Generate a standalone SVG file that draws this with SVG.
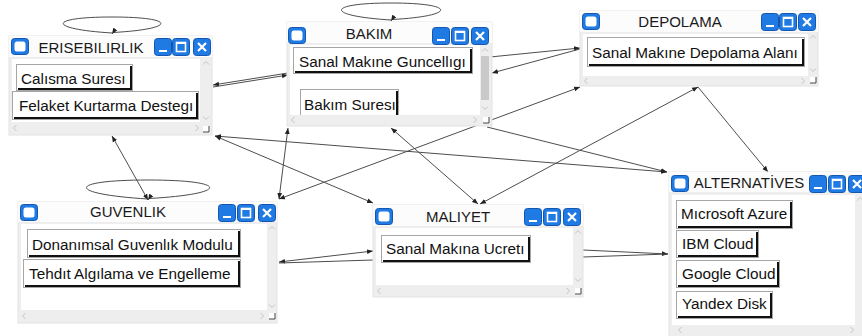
<svg xmlns="http://www.w3.org/2000/svg" xmlns:xlink="http://www.w3.org/1999/xlink" width="862" height="336" viewBox="0 0 862 336">
  <style>
    .frame { fill: #eeeeee; stroke: #e3e3e3; }
    .bar { fill: #fcfcfc; }
    .pane { fill: #ffffff; }
    .title { font-family: "Liberation Sans", Arial, sans-serif; font-size: 15px; fill: #1a1a1a; text-anchor: middle; }
    .lbl { font-family: "Liberation Sans", Arial, sans-serif; font-size: 15.3px; fill: #111111; }
    .btn rect { fill: #ffffff; stroke: #a6a6a6; }
    .btn path { fill: none; stroke: #111111; stroke-width: 2; }
    .blue { fill: #1f7ae3; stroke: #1457b0; }
    .chev { fill: none; stroke: #c4c4c4; stroke-width: 1; }
    .thumb { fill: #c9c9c9; }
    .wire { fill: none; stroke: #4d4d4d; stroke-width: 1; }
    .wire.ae { marker-end: url(#ah); }
    .wire.ab { marker-start: url(#ah); marker-end: url(#ah); }
  </style>
  <defs>
    <marker id="ah" viewBox="0 0 10 10" refX="10" refY="5" markerWidth="6" markerHeight="6" markerUnits="userSpaceOnUse" orient="auto-start-reverse">
      <path d="M0,1 L10,5 L0,9 z" fill="#222222"/>
    </marker>
    <!-- window chrome pieces -->
    <g id="ico">
      <rect class="blue" x="0.5" y="0.5" width="17" height="16" rx="3"/>
      <rect x="3.5" y="3.5" width="11" height="10" rx="2.5" fill="#ffffff"/>
    </g>
    <g id="bmin">
      <rect class="blue" x="0.5" y="0.5" width="17" height="17" rx="3"/>
      <rect x="5" y="12" width="8" height="2" fill="#ffffff"/>
    </g>
    <g id="bmax">
      <rect class="blue" x="0.5" y="0.5" width="17" height="17" rx="3"/>
      <rect x="4.5" y="4.5" width="9" height="9" fill="none" stroke="#ffffff" stroke-width="1.6"/>
      <rect x="4" y="4" width="10" height="2" fill="#ffffff"/>
    </g>
    <g id="bx">
      <rect class="blue" x="0.5" y="0.5" width="17" height="17" rx="3"/>
      <path d="M5,5 L13,13 M13,5 L5,13" stroke="#ffffff" stroke-width="2.2"/>
    </g>
    <path id="cu" class="chev" d="M-3,1.5 L0,-1.5 L3,1.5"/>
    <path id="cd" class="chev" d="M-3,-1.5 L0,1.5 L3,-1.5"/>
    <path id="cl" class="chev" d="M1.5,-3 L-1.5,0 L1.5,3"/>
    <path id="cr" class="chev" d="M-1.5,-3 L1.5,0 L-1.5,3"/>
    <g id="grip">
      <rect x="-3" y="-3" width="6" height="6" fill="#ffffff"/>
      <path d="M-3,3 H3 V-3" fill="none" stroke="#444444" stroke-width="1"/>
    </g>
    <clipPath id="clipBakim"><rect x="290" y="45" width="190" height="70"/></clipPath>
  </defs>

  <rect width="862" height="336" fill="#ffffff"/>

  <!-- connectors -->
  <g id="connectors">
    <path class="wire ae" d="M288,73 L213,85"/>
    <path class="wire ae" d="M213,87 L288,75"/>
    <path class="wire ae" d="M490,57 L580,48"/>
    <path class="wire ae" d="M580,49 L492,73"/>
    <path class="wire ab" d="M279,199 L580,87"/>
    <path class="wire ab" d="M215,136 L373,203"/>
    <path class="wire ab" d="M215,136 L667,172"/>
    <path class="wire ab" d="M112,136 L148,200"/>
    <path class="wire ab" d="M288,128 L279,199"/>
    <path class="wire ab" d="M391,128 L478,204"/>
    <path class="wire ae" d="M487,127 L667,172"/>
    <path class="wire ab" d="M698,87 L480,204"/>
    <path class="wire ae" d="M698,87 L768,172"/>
    <path class="wire ab" d="M279,262 L373,251"/>
    <path class="wire" d="M279,263 L373,260"/>
    <path class="wire ae" d="M583,250 L668,254"/>
    <path class="wire" d="M583,257 L668,254"/>
    <!-- self loops -->
    <path class="wire ae" d="M112,33 C47,29 47,17 112,17 C177,17 177,29 113,32.5 L112,34"/>
    <path class="wire ae" d="M391,20 C325,16 325,3 391,3 C457,3 457,16 392,19.5 L391,21"/>
    <path class="wire ae" d="M148,199 C66,194 66,180 148,180 C230,180 230,194 149,198.5 L148,200"/>
  </g>

  <!-- ERISEBILIRLIK -->
  <g id="erisebilirlik">
    <rect class="frame" x="9" y="36" width="203" height="99"/>
    <rect class="bar" x="9" y="36" width="203" height="21"/>
    <rect class="pane" x="12" y="59" width="188" height="63"/>
    <use xlink:href="#ico" x="11" y="38"/>
    <text class="title" x="91" y="53">ERISEBILIRLIK</text>
    <use xlink:href="#bmin" x="154" y="38"/>
    <use xlink:href="#bmax" x="172" y="38"/>
    <use xlink:href="#bx" x="193" y="38"/>
    <use xlink:href="#cu" x="206" y="63"/>
    <use xlink:href="#cd" x="206" y="118"/>
    <use xlink:href="#cl" x="15" y="128"/>
    <use xlink:href="#cr" x="197" y="128"/>
    <use xlink:href="#grip" x="206" y="129"/>
    <g class="btn">
      <rect x="16.5" y="64.5" width="116" height="26"/>
      <path d="M131,66 V89 H18"/>
    </g>
    <text class="lbl" x="21" y="84">Calısma Suresı</text>
    <g class="btn">
      <rect x="12.5" y="91.5" width="186" height="28"/>
      <path d="M197,93 V118 H14"/>
    </g>
    <text class="lbl" x="19" y="111">Felaket Kurtarma Destegı</text>
  </g>

  <!-- BAKIM -->
  <g id="bakim">
    <rect class="frame" x="287" y="22" width="205" height="104"/>
    <rect class="bar" x="287" y="22" width="205" height="21"/>
    <rect class="pane" x="290" y="45" width="190" height="70"/>
    <use xlink:href="#ico" x="288" y="27"/>
    <text class="title" x="369" y="39">BAKIM</text>
    <use xlink:href="#bmin" x="432" y="27"/>
    <use xlink:href="#bmax" x="451" y="27"/>
    <use xlink:href="#bx" x="471" y="27"/>
    <rect class="thumb" x="481" y="56" width="8" height="44"/>
    <use xlink:href="#cu" x="485" y="50"/>
    <use xlink:href="#cd" x="485" y="108"/>
    <use xlink:href="#cl" x="293" y="120"/>
    <use xlink:href="#cr" x="475" y="120"/>
    <use xlink:href="#grip" x="486" y="120"/>
    <g class="btn">
      <rect x="293.5" y="47.5" width="179" height="26"/>
      <path d="M471,49 V72 H295"/>
    </g>
    <text class="lbl" x="299" y="67">Sanal Makıne Guncellıgı</text>
    <g clip-path="url(#clipBakim)">
      <g class="btn">
        <rect x="300.5" y="89.5" width="98" height="30"/>
        <path d="M397,91 V118 H302"/>
      </g>
      <text class="lbl" x="304" y="110">Bakım Suresı</text>
    </g>
  </g>

  <!-- DEPOLAMA -->
  <g id="depolama">
    <rect class="frame" x="580" y="11" width="238" height="75"/>
    <rect class="bar" x="580" y="11" width="238" height="21"/>
    <rect class="pane" x="583" y="34" width="225" height="42"/>
    <use xlink:href="#ico" x="582" y="13"/>
    <text class="title" x="680" y="27">DEPOLAMA</text>
    <use xlink:href="#bmin" x="761" y="13"/>
    <use xlink:href="#bmax" x="779" y="13"/>
    <use xlink:href="#bx" x="798" y="13"/>
    <use xlink:href="#cu" x="813" y="37"/>
    <use xlink:href="#cd" x="813" y="70"/>
    <use xlink:href="#cl" x="586" y="81"/>
    <use xlink:href="#cr" x="803" y="81"/>
    <use xlink:href="#grip" x="813" y="80"/>
    <g class="btn">
      <rect x="587.5" y="37.5" width="217" height="29"/>
      <path d="M803,39 V65 H589"/>
    </g>
    <text class="lbl" x="592" y="58">Sanal Makıne Depolama Alanı</text>
  </g>

  <!-- GUVENLIK -->
  <g id="guvenlik">
    <rect class="frame" x="18" y="202" width="259" height="121"/>
    <rect class="bar" x="18" y="202" width="259" height="20"/>
    <rect class="pane" x="21" y="224" width="246" height="86"/>
    <use xlink:href="#ico" x="20" y="204"/>
    <text class="title" x="128" y="217">GUVENLIK</text>
    <use xlink:href="#bmin" x="218" y="204"/>
    <use xlink:href="#bmax" x="237" y="204"/>
    <use xlink:href="#bx" x="258" y="204"/>
    <use xlink:href="#cu" x="272" y="228"/>
    <use xlink:href="#cd" x="272" y="306"/>
    <use xlink:href="#cl" x="24" y="316"/>
    <use xlink:href="#cr" x="262" y="316"/>
    <use xlink:href="#grip" x="272" y="316"/>
    <g class="btn">
      <rect x="27.5" y="229.5" width="213" height="28"/>
      <path d="M239,231 V256 H29"/>
    </g>
    <text class="lbl" x="32" y="250">Donanımsal Guvenlık Modulu</text>
    <g class="btn">
      <rect x="23.5" y="259.5" width="217" height="28"/>
      <path d="M239,261 V286 H25"/>
    </g>
    <text class="lbl" x="29" y="279">Tehdıt Algılama ve Engelleme</text>
  </g>

  <!-- MALIYET -->
  <g id="maliyet">
    <rect class="frame" x="373" y="205" width="210" height="92"/>
    <rect class="bar" x="373" y="205" width="210" height="21"/>
    <rect class="pane" x="376" y="228" width="197" height="57"/>
    <use xlink:href="#ico" x="375" y="208"/>
    <text class="title" x="458" y="222">MALIYET</text>
    <use xlink:href="#bmin" x="524" y="208"/>
    <use xlink:href="#bmax" x="543" y="208"/>
    <use xlink:href="#bx" x="563" y="208"/>
    <use xlink:href="#cu" x="578" y="232"/>
    <use xlink:href="#cd" x="578" y="280"/>
    <use xlink:href="#cl" x="379" y="291"/>
    <use xlink:href="#cr" x="568" y="291"/>
    <use xlink:href="#grip" x="578" y="291"/>
    <g class="btn">
      <rect x="381.5" y="235.5" width="149" height="27"/>
      <path d="M529,237 V261 H383"/>
    </g>
    <text class="lbl" x="386" y="254">Sanal Makına Ucretı</text>
  </g>

  <!-- ALTERNATİVES -->
  <g id="alternatives">
    <rect class="frame" x="669" y="172" width="200" height="170"/>
    <rect class="bar" x="669" y="172" width="200" height="20"/>
    <rect class="pane" x="672" y="195" width="183" height="130"/>
    <use xlink:href="#ico" x="671" y="175"/>
    <text class="title" x="749" y="188">ALTERNATİVES</text>
    <use xlink:href="#bmin" x="809" y="175"/>
    <use xlink:href="#bmax" x="828" y="175"/>
    <use xlink:href="#bx" x="848" y="175"/>
    <use xlink:href="#cu" x="860" y="199"/>
    <use xlink:href="#cl" x="680" y="330"/>
    <use xlink:href="#cr" x="852" y="330"/>
    <g class="btn">
      <rect x="676.5" y="200.5" width="116" height="28"/>
      <path d="M791,202 V227 H678"/>
    </g>
    <text class="lbl" x="681" y="219">Mıcrosoft Azure</text>
    <g class="btn">
      <rect x="676.5" y="230.5" width="82" height="27"/>
      <path d="M757,232 V256 H678"/>
    </g>
    <text class="lbl" x="682" y="249">IBM Cloud</text>
    <g class="btn">
      <rect x="676.5" y="260.5" width="103" height="27"/>
      <path d="M778,262 V286 H678"/>
    </g>
    <text class="lbl" x="682" y="279">Google Cloud</text>
    <g class="btn">
      <rect x="676.5" y="291.5" width="96" height="27"/>
      <path d="M771,293 V317 H678"/>
    </g>
    <text class="lbl" x="682" y="309">Yandex Disk</text>
  </g>
</svg>
